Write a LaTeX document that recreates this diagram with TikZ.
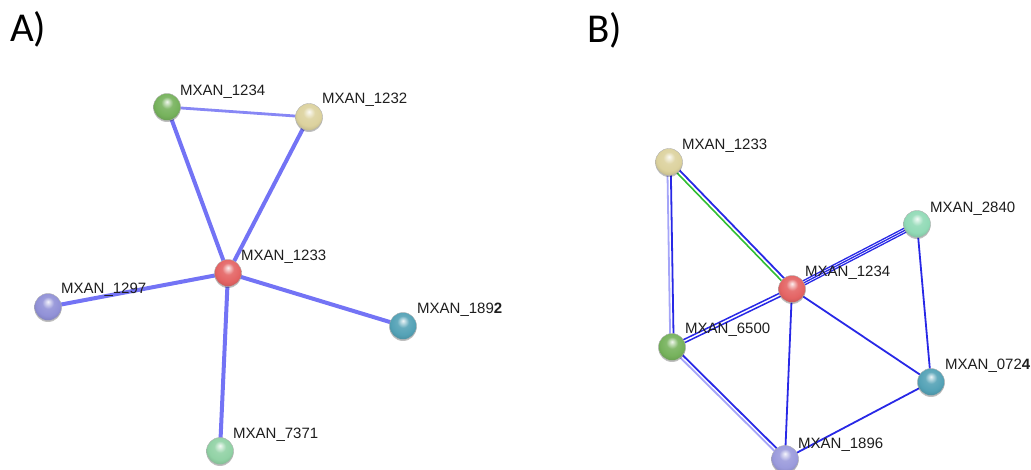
\documentclass[tikz,border=0pt]{standalone}
\usepackage{fontspec}
\setmainfont{Liberation Sans}
\newfontfamily\panelfont{Carlito}
\usetikzlibrary{calc,shadows}
\pgfdeclarelayer{bg}
\pgfsetlayers{bg,main}
\colorlet{spherecol}{red}
\pgfdeclareradialshading[spherecol]{sphere}{\pgfpoint{0bp}{10bp}}{%
  color(0bp)=(spherecol!10!white);
  color(4bp)=(spherecol!40!white);
  color(11bp)=(spherecol!90!white);
  color(22bp)=(spherecol);
  color(32bp)=(spherecol!85!black);
  color(50bp)=(spherecol!75!black)}
\definecolor{cgreen}{RGB}{118,178,92}
\definecolor{ctan}{RGB}{220,210,158}
\definecolor{cred}{RGB}{228,100,100}
\definecolor{cpurple}{RGB}{145,145,215}
\definecolor{cteal}{RGB}{84,162,182}
\definecolor{clgreen}{RGB}{145,210,165}
\definecolor{cmint}{RGB}{145,218,182}
\definecolor{clav}{RGB}{155,155,220}
\definecolor{edgeA}{RGB}{115,115,245}
\definecolor{edgeAl}{RGB}{135,135,245}
\definecolor{edgeB}{RGB}{40,40,230}
\definecolor{edgeBl}{RGB}{165,165,248}
\definecolor{edgeG}{RGB}{50,190,50}
\definecolor{labcol}{RGB}{30,30,30}
\tikzset{
  sph/.style={circle, minimum size=27, inner sep=0, draw=black!30, line width=0.4,
    /utils/exec={\colorlet{spherecol}{#1}}, shading=sphere,
    drop shadow={shadow xshift=0pt, shadow yshift=-1.5pt, opacity=0.25, fill=black}},
  lab/.style={anchor=base west, inner sep=0, text=labcol,
    font=\fontsize{15}{18}\selectfont},
  panel/.style={anchor=base west, inner sep=0, text=black,
    font=\panelfont\fontsize{41}{48}\selectfont},
  ea/.style={draw=edgeA, line width=4},
  eal/.style={draw=edgeAl, line width=2.8},
  eb/.style={draw=edgeB, line width=1.8},
  ebl/.style={draw=edgeBl, line width=1.8},
  eg/.style={draw=edgeG, line width=1.6},
}
\begin{document}
\begin{tikzpicture}[x=1pt,y=-1pt]
\useasboundingbox (0,0) rectangle (1031,470);
% panel titles
\node[panel] (tA) at (10,42) {A)};
\node[panel] (tB) at (587,43) {B)};
% ---- Panel A nodes
\node[sph=cgreen]  (a1234) at (167,107) {};
\node[sph=ctan]    (a1232) at (309,117) {};
\node[sph=cred]    (a1233) at (228,273) {};
\node[sph=cpurple] (a1297) at (48,307) {};
\node[sph=cteal]   (a1892) at (403,326) {};
\node[sph=clgreen] (a7371) at (220,451) {};
% ---- Panel B nodes
\node[sph=ctan]    (b1233) at (669,162) {};
\node[sph=cred]    (b1234) at (792,289) {};
\node[sph=cmint]   (b2840) at (917,224) {};
\node[sph=cgreen]  (b6500) at (672,347) {};
\node[sph=cteal]   (b0724) at (931,382) {};
\node[sph=clav]    (b1896) at (785,459) {};
% ---- edges
\begin{pgfonlayer}{bg}
\draw[eal] (a1234.center) -- (a1232.center);
\draw[ea] (a1234.center) -- (a1233.center);
\draw[ea] (a1232.center) -- (a1233.center);
\draw[ea] (a1233.center) -- (a1297.center);
\draw[ea] (a1233.center) -- (a1892.center);
\draw[ea] (a1233.center) -- (a7371.center);
% B
\draw[eb]  ($(b1233.center)!1.7pt!90:(b6500.center)$) -- ($(b6500.center)!1.7pt!-90:(b1233.center)$);
\draw[ebl] ($(b1233.center)!1.7pt!-90:(b6500.center)$) -- ($(b6500.center)!1.7pt!90:(b1233.center)$);
\draw[eb]  ($(b1233.center)!1.8pt!90:(b1234.center)$) -- ($(b1234.center)!1.8pt!-90:(b1233.center)$);
\draw[eg]  ($(b1233.center)!1.8pt!-90:(b1234.center)$) -- ($(b1234.center)!1.8pt!90:(b1233.center)$);
\draw[eb, line width=1.3] ($(b1234.center)!2.2pt!90:(b2840.center)$) -- ($(b2840.center)!2.2pt!-90:(b1234.center)$);
\draw[eb, line width=1.3] (b1234.center) -- (b2840.center);
\draw[eb, line width=1.3] ($(b1234.center)!2.2pt!-90:(b2840.center)$) -- ($(b2840.center)!2.2pt!90:(b1234.center)$);
\draw[eb, line width=1.5] ($(b1234.center)!1.6pt!90:(b6500.center)$) -- ($(b6500.center)!1.6pt!-90:(b1234.center)$);
\draw[eb, line width=1.5] ($(b1234.center)!1.6pt!-90:(b6500.center)$) -- ($(b6500.center)!1.6pt!90:(b1234.center)$);
\draw[eb] (b1234.center) -- (b0724.center);
\draw[eb] (b1234.center) -- (b1896.center);
\draw[eb] (b2840.center) -- (b0724.center);
\draw[eb] (b0724.center) -- (b1896.center);
\draw[eb]  ($(b6500.center)!1.7pt!90:(b1896.center)$) -- ($(b1896.center)!1.7pt!-90:(b6500.center)$);
\draw[ebl] ($(b6500.center)!1.7pt!-90:(b1896.center)$) -- ($(b1896.center)!1.7pt!90:(b6500.center)$);
\end{pgfonlayer}
% ---- labels
\node[lab] (la1234) at ($(a1234)+(13,-11)$) {MXAN\_1234};
\node[lab] (la1232) at ($(a1232)+(13,-13)$) {MXAN\_1232};
\node[lab] (la1233) at ($(a1233)+(13,-12)$) {MXAN\_1233};
\node[lab] (la1297) at ($(a1297)+(13,-13)$) {MXAN\_1297};
\node[lab] (la1892) at ($(a1892)+(14,-12)$) {MXAN\_189\textbf{2}};
\node[lab] (la7371) at ($(a7371)+(13,-13)$) {MXAN\_7371};
\node[lab] (lb1233) at ($(b1233)+(13,-12)$) {MXAN\_1233};
\node[lab] (lb1234) at ($(b1234)+(13,-12)$) {MXAN\_1234};
\node[lab] (lb2840) at ($(b2840)+(13,-11)$) {MXAN\_2840};
\node[lab] (lb6500) at ($(b6500)+(13,-13)$) {MXAN\_6500};
\node[lab] (lb0724) at ($(b0724)+(14,-12)$) {MXAN\_072\textbf{4}};
\node[lab] (lb1896) at ($(b1896)+(13,-11)$) {MXAN\_1896};
\end{tikzpicture}
\end{document}
